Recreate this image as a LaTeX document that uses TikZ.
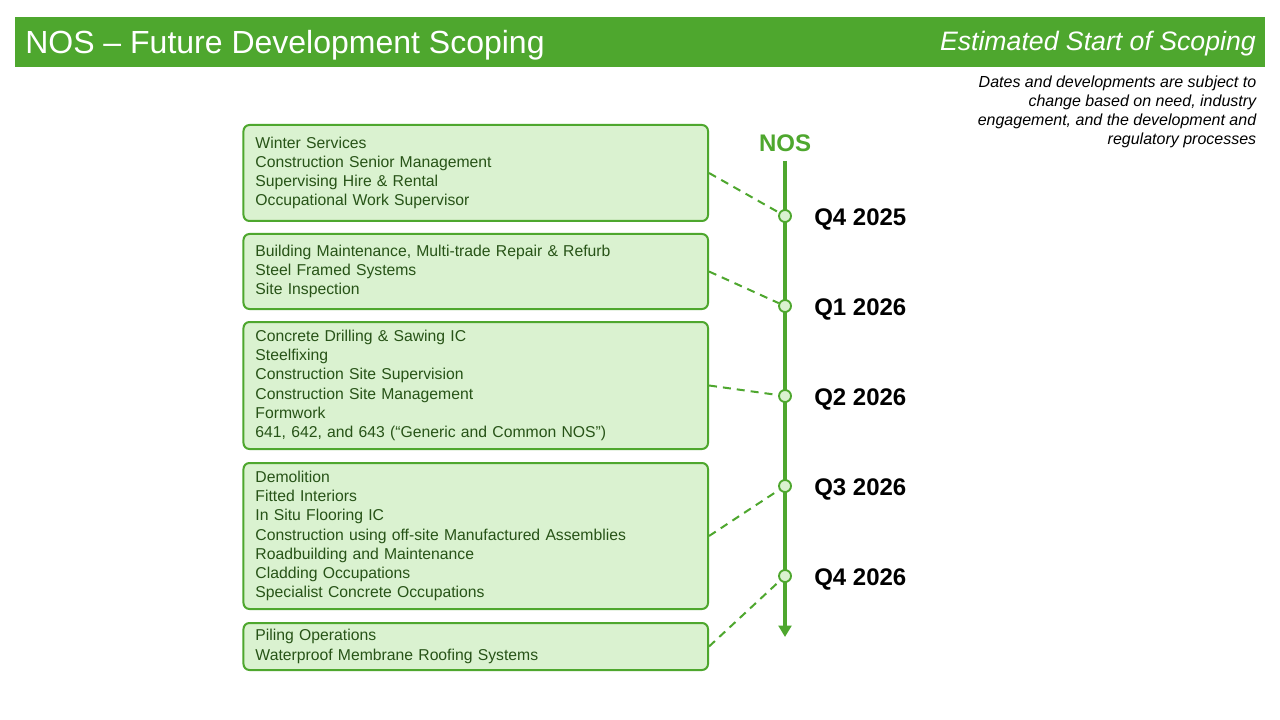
\documentclass[tikz,border=0pt]{standalone}
\usepackage{fontspec}
\setmainfont{Liberation Sans}
\usetikzlibrary{arrows.meta}
\definecolor{hdrgreen}{HTML}{4EA72E}
\definecolor{boxfill}{HTML}{DAF2D0}
\definecolor{boxtext}{HTML}{275317}
\tikzset{
  box/.style={draw=hdrgreen, line width=1.5pt, fill=boxfill, rounded corners=4.5pt,
    minimum width=348.4pt, text width=330.4pt, inner xsep=9pt, inner ysep=0pt,
    align=left, text=boxtext, font=\fontsize{11.8}{14.45}\selectfont},
  conn/.style={draw=hdrgreen, line width=1.5pt, dash pattern=on 6pt off 4.5pt},
  dot/.style={circle, draw=hdrgreen, line width=1.4pt, fill=boxfill, minimum size=9pt, inner sep=0pt},
  qlabel/.style={anchor=base west, font=\fontsize{18}{21.6}\selectfont\bfseries, text=black, inner sep=0pt}
}
\begin{document}
\begin{tikzpicture}[x=0.75pt, y=-0.75pt]
\useasboundingbox (0,0) rectangle (1280,720);
\fill[white] (0,0) rectangle (1280,720);
% header
\fill[hdrgreen] (15,17) rectangle (1265,67);
\node[anchor=base west, inner sep=0pt, text=white, font=\fontsize{24}{28.8}\selectfont] (title) at (25,53.5) {NOS – Future Development Scoping};
\node[anchor=base east, inner sep=0pt, text=white, font=\fontsize{20}{24}\selectfont\itshape] (subtitle) at (1256,50.5) {Estimated Start of Scoping};
\node[anchor=center, inner sep=0pt, align=right, text=black, font=\fontsize{12}{14.4}\selectfont\itshape] (note) at (1117,112) {Dates and developments are subject to\\change based on need, industry\\engagement, and the development and\\regulatory processes};
% timeline
\node[anchor=base, inner sep=0pt, text=hdrgreen, font=\fontsize{18}{21.6}\selectfont\bfseries] (nos) at (785,151.5) {NOS};
\coordinate (ttop) at (785,161);
\coordinate (tbot) at (785,637);
\draw[hdrgreen, line width=3pt, -{Triangle[length=8.5pt,width=9.5pt]}] (ttop) -- (tbot);
% boxes
\node[box, minimum height=72pt] (b1) at (475.75,173) {Winter Services\\Construction Senior Management\\Supervising Hire \& Rental\\Occupational Work Supervisor};
\node[box, minimum height=56.25pt] (b2) at (475.75,271.5) {Building Maintenance, Multi-trade Repair \& Refurb\\Steel Framed Systems\\Site Inspection};
\node[box, minimum height=95.25pt] (b3) at (475.75,385.5) {Concrete Drilling \& Sawing IC\\Steelfixing\\Construction Site Supervision\\Construction Site Management\\Formwork\\641, 642, and 643 (“Generic and Common NOS”)};
\node[box, minimum height=109.5pt] (b4) at (475.75,536) {Demolition\\Fitted Interiors\\In Situ Flooring IC\\Construction using off-site Manufactured Assemblies\\Roadbuilding and Maintenance\\Cladding Occupations\\Specialist Concrete Occupations};
\node[box, minimum height=35.25pt] (b5) at (475.75,646.5) {Piling Operations\\Waterproof Membrane Roofing Systems};
% dots
\node[dot] (c1) at (785,216) {};
\node[dot] (c2) at (785,306) {};
\node[dot] (c3) at (785,396) {};
\node[dot] (c4) at (785,486) {};
\node[dot] (c5) at (785,576) {};
% connectors
\draw[conn] (b1.east) -- (c1);
\draw[conn] (b2.east) -- (c2);
\draw[conn] (b3.east) -- (c3);
\draw[conn] (b4.east) -- (c4);
\draw[conn] (b5.east) -- (c5);
% labels
\node[qlabel] (q1) at (814,225.5) {Q4 2025};
\node[qlabel] (q2) at (814,315.5) {Q1 2026};
\node[qlabel] (q3) at (814,405.5) {Q2 2026};
\node[qlabel] (q4) at (814,495.5) {Q3 2026};
\node[qlabel] (q5) at (814,585.5) {Q4 2026};
\end{tikzpicture}
\end{document}
